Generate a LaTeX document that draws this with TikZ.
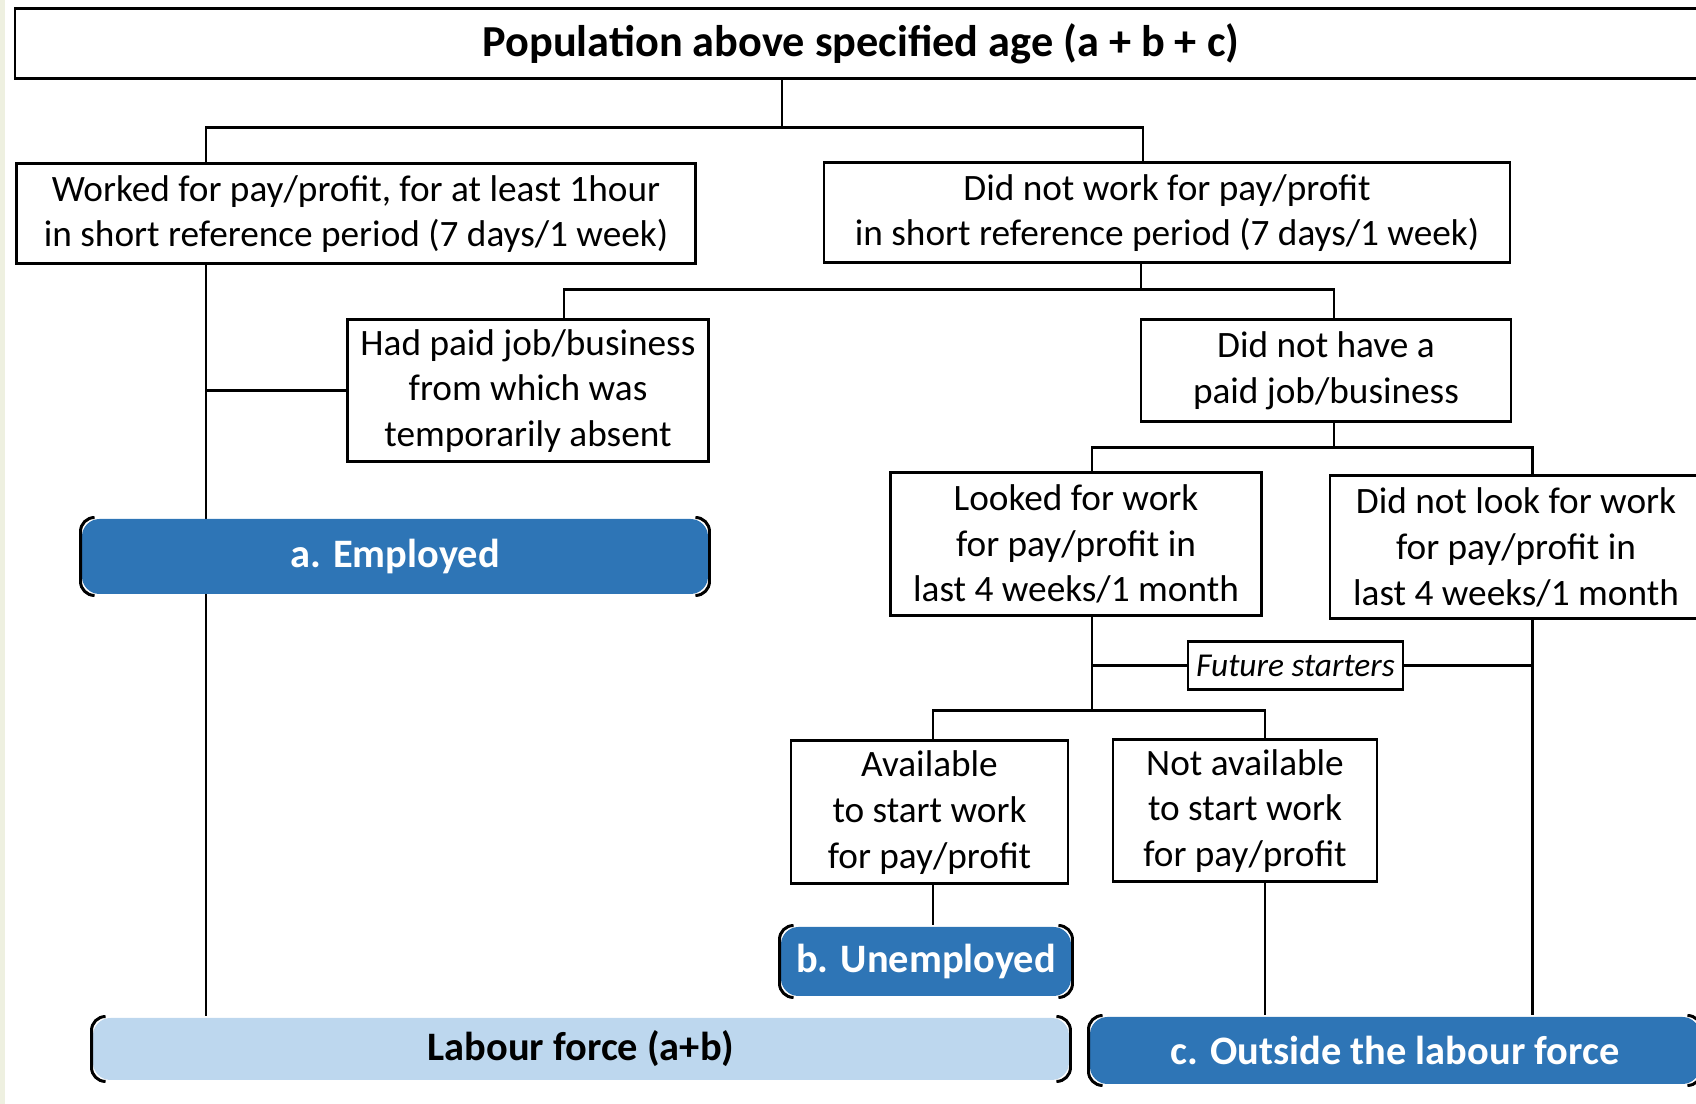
\documentclass[tikz,border=0pt]{standalone}
\usepackage{fontspec}
\setmainfont{Carlito}
\definecolor{catblue}{HTML}{2E75B6}
\definecolor{lfblue}{HTML}{BDD7EE}
\definecolor{edgestrip}{HTML}{EEF0E0}
\begin{document}
\begin{tikzpicture}[line width=0.85pt,
    box/.style={draw=black, fill=white, align=center, inner sep=0pt, font=\fontsize{10.6}{13}\selectfont},
    cat/.style={fill=catblue, text=white, inner sep=0pt, rounded corners=5pt, font=\fontsize{11.5}{13}\selectfont\bfseries},
  ]
    \useasboundingbox (0,0) rectangle (16.96,-11.04);
    \fill[edgestrip] (0,0) rectangle (0.05,-11.04);

    % boxes
    \node[box, minimum width=16.92cm, minimum height=0.70cm, font=\fontsize{12.6}{14}\selectfont\bfseries] (top) at (8.61,-0.44) {Population above specified age (a + b + c)};
    \node[box, minimum width=6.79cm, minimum height=1.00cm] (work) at (3.56,-2.14) {Worked for pay/profit, for at least 1hour\\in short reference period (7 days/1 week)};
    \node[box, minimum width=6.86cm, minimum height=1.00cm] (nowork) at (11.67,-2.13) {Did not work for pay/profit\\in short reference period (7 days/1 week)};
    \node[box, minimum width=3.61cm, minimum height=1.42cm] (paid) at (5.28,-3.91) {Had paid job/business\\from which was\\temporarily absent};
    \node[box, minimum width=3.70cm, minimum height=1.02cm] (nohave) at (13.26,-3.71) {Did not have a\\paid job/business};
    \node[box, minimum width=3.71cm, minimum height=1.43cm] (looked) at (10.76,-5.44) {Looked for work\\for pay/profit in\\last 4 weeks/1 month};
    \node[box, minimum width=3.72cm, minimum height=1.43cm] (notlook) at (15.16,-5.475) {Did not look for work\\for pay/profit in\\last 4 weeks/1 month};
    \node[box, minimum width=2.15cm, minimum height=0.48cm, font=\fontsize{9.5}{11}\selectfont\itshape] (future) at (12.955,-6.66) {Future starters};
    \node[box, minimum width=2.77cm, minimum height=1.43cm] (avail) at (9.295,-8.125) {Available\\to start work\\for pay/profit};
    \node[box, minimum width=2.64cm, minimum height=1.42cm] (notavail) at (12.45,-8.11) {Not available\\to start work\\for pay/profit};
    \node[cat, fill=lfblue, text=black, minimum width=9.76cm, minimum height=0.62cm] (labour) at (5.81,-10.49) {Labour force (a+b)};
    \node[cat, minimum width=6.10cm, minimum height=0.67cm] (outside) at (13.95,-10.505) {c. Outside the labour force};

    % bars
    \coordinate (b1) at (7.82,-1.28); \coordinate (b1l) at (2.06,-1.28); \coordinate (b1r) at (11.43,-1.28);
    \coordinate (b2) at (11.41,-2.90); \coordinate (b2l) at (5.64,-2.90); \coordinate (b2r) at (13.34,-2.90);
    \coordinate (b3) at (13.34,-4.48); \coordinate (b3l) at (10.92,-4.48); \coordinate (b3r) at (15.32,-4.48);
    \coordinate (b4) at (10.92,-7.11); \coordinate (b4l) at (9.33,-7.11); \coordinate (b4r) at (12.65,-7.11);

    \draw (top.south -| b1) -- (b1);
    \draw (work.north -| b1l) -- (b1l) -- (b1r) -- (nowork.north -| b1r);
    \draw (work.south -| b1l) -- (labour.north -| b1l);
    \draw (paid.west) -- (paid.west -| b1l);
    \draw (nowork.south -| b2) -- (b2);
    \draw (paid.north -| b2l) -- (b2l) -- (b2r) -- (nohave.north -| b2r);
    \draw (nohave.south -| b3) -- (b3);
    \draw (looked.north -| b3l) -- (b3l) -- (b3r) -- (notlook.north -| b3r);
    \draw (looked.south -| b4) -- (b4);
    \draw (avail.north -| b4l) -- (b4l) -- (b4r) -- (notavail.north -| b4r);
    \draw (future.west) -- (future.west -| b4);
    \draw (future.east) -- (future.east -| b3r);
    \draw (notlook.south -| b3r) -- (outside.north -| b3r);
    \draw (notavail.south -| b4r) -- (outside.north -| b4r);

    \node[cat, minimum width=6.26cm, minimum height=0.75cm] (employed) at (3.95,-5.565) {a. Employed};
    \node[cat, minimum width=2.90cm, minimum height=0.69cm] (unemp) at (9.26,-9.615) {b. Unemployed};
    \draw (avail.south -| b4l) -- (unemp.north -| b4l);

    % bracket ends of the coloured bars
    \foreach \n in {employed, unemp, labour, outside} {
      \draw[rounded corners=4pt] ([xshift=4pt]\n.north west) -- (\n.north west) -- (\n.south west) -- ([xshift=4pt]\n.south west);
      \draw[rounded corners=4pt] ([xshift=-4pt]\n.north east) -- (\n.north east) -- (\n.south east) -- ([xshift=-4pt]\n.south east);
    }
\end{tikzpicture}
\end{document}
